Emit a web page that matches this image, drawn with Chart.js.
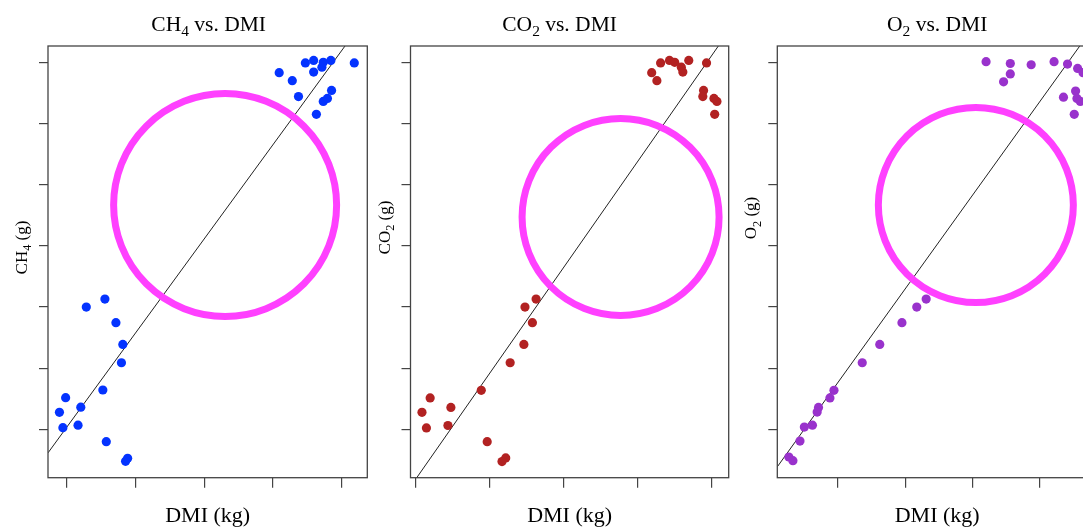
<!DOCTYPE html>
<html>
<head>
<meta charset="utf-8">
<script src="https://cdn.jsdelivr.net/npm/chart.js@4.4.0/dist/chart.umd.min.js"></script>
<style>
  html, body { margin: 0; padding: 0; background: #fff; overflow: hidden; }
  body { width: 1083px; height: 531px; position: relative; }
  .panel { position: absolute; top: 0; }
</style>
</head>
<body>
<canvas id="chCH4" class="panel" width="370" height="531" style="left:0px"></canvas>
<canvas id="chCO2" class="panel" width="370" height="531" style="left:370px"></canvas>
<canvas id="chO2"  class="panel" width="370" height="531" style="left:740px"></canvas>
<script>
/* ── Data (axis units: no tick labels are printed in the figure) ───────── */
const yTicks = [0, 1, 2, 3, 4, 5, 6];

// CH4 vs DMI
const ch4X = [3.09, 3.28, 3.37, 3.47, 3.59, 3.59, 3.63, 3.71, 3.73, 3.84, 3.73, 3.79, 3.85, 4.18,
              0.29, 0.56, 0.72, 0.82, 0.80, 0.53, -0.01, 0.21, -0.10, -0.05, 0.17, 0.58, 0.89, 0.86];
const ch4Y = [5.83, 5.70, 5.44, 5.99, 6.03, 5.84, 5.15, 5.92, 6.00, 6.03, 5.36, 5.41, 5.54, 5.99,
              2.00, 2.13, 1.745, 1.39, 1.09, 0.645, 0.52, 0.365, 0.28, 0.03, 0.07, -0.20, -0.47, -0.52];
const ch4XTicks = [0, 1, 2, 3, 4];
const ch4Fit = [0.028, 1.542];          // intercept, slope
const ch4Gap = [2.305, 3.668];          // centre of the highlighted empty region

// CO2 vs DMI
const co2X = [3.19, 3.26, 3.31, 3.43, 3.50, 3.59, 3.61, 3.69, 3.93, 3.89, 3.88, 4.03, 4.07, 4.04,
              1.48, 1.63, 1.58, 1.465, 1.28, 0.89, 0.20, 0.48, 0.09, 0.15, 0.44, 0.97, 1.22, 1.17];
const co2Y = [5.83, 5.70, 5.99, 6.03, 6.00, 5.92, 5.84, 6.03, 5.99, 5.54, 5.44, 5.41, 5.36, 5.15,
              2.00, 2.13, 1.745, 1.39, 1.09, 0.64, 0.515, 0.36, 0.28, 0.025, 0.065, -0.20, -0.465, -0.525];
const co2XTicks = [0, 1, 2, 3, 4];
const co2Fit = [-0.821, 1.733];
const co2Gap = [2.77, 3.472];

// O2 vs DMI
const o2X = [3.20, 3.56, 3.56, 3.46, 3.87, 4.21, 4.41, 4.56, 4.64, 4.53, 4.35, 4.55, 4.60, 4.51,
             2.31, 2.17, 1.95, 1.62, 1.36, 0.94, 0.88, 0.71, 0.69, 0.50, 0.62, 0.435, 0.27, 0.33];
const o2Y = [6.01, 5.98, 5.81, 5.68, 5.96, 6.01, 5.97, 5.90, 5.83, 5.53, 5.43, 5.41, 5.36, 5.15,
             2.13, 2.00, 1.745, 1.39, 1.09, 0.64, 0.515, 0.36, 0.285, 0.04, 0.07, -0.19, -0.45, -0.51];
const o2XTicks = [1, 2, 3, 4, 5];
const o2Fit = [-0.76, 1.53];
const o2Gap = [3.048, 3.668];

/* ── Helpers ──────────────────────────────────────────────────────────── */
const SERIF = '"Liberation Serif", "Times New Roman", Times, serif';
const SUBS  = '₀₁₂₃₄₅₆₇₈₉';
const INK   = '#444';

// draw text, rendering unicode subscript digits as small lowered digits
function drawRich(ctx, text, x, y, size, align) {
  const runs = [];
  for (const ch of text) {
    const i = SUBS.indexOf(ch);
    const sub = i >= 0;
    const c = sub ? String(i) : ch;
    const last = runs[runs.length - 1];
    if (last && last.sub === sub) last.t += c; else runs.push({ t: c, sub });
  }
  let w = 0;
  runs.forEach(r => {
    ctx.font = `${r.sub ? size * 0.72 : size}px ${SERIF}`;
    r.w = ctx.measureText(r.t).width;
    w += r.w;
  });
  let cx = align === 'center' ? x - w / 2 : x;
  ctx.textAlign = 'left';
  ctx.textBaseline = 'alphabetic';
  runs.forEach(r => {
    ctx.font = `${r.sub ? size * 0.72 : size}px ${SERIF}`;
    ctx.fillText(r.t, cx, r.sub ? y + size * 0.25 : y);
    cx += r.w;
  });
}

// R-style frame, main title and rotated y label
const rPlot = {
  id: 'rPlot',
  afterDraw(chart, args, o) {
    const { ctx, chartArea: a } = chart;
    ctx.save();
    ctx.strokeStyle = INK;
    ctx.lineWidth = 1.3;
    ctx.strokeRect(a.left, a.top, a.right - a.left, a.bottom - a.top);
    ctx.fillStyle = '#000';
    drawRich(ctx, o.title, (a.left + a.right) / 2 + (o.titleShift || 0), 31, 21.5, 'center');
    ctx.translate(a.left - 21, o.ylabY);
    ctx.rotate(-Math.PI / 2);
    drawRich(ctx, o.ylab, 0, 0, 17, 'center');
    ctx.restore();
  }
};

function makePanel(id, p) {
  const pts = p.x.map((x, i) => ({ x, y: p.y[i] }));
  const fit = p.xRange.map(x => ({ x, y: p.fit[0] + p.fit[1] * x }));

  new Chart(document.getElementById(id), {
    type: 'scatter',
    data: {
      datasets: [
        { // highlight ring
          data: [{ x: p.gap[0], y: p.gap[1] }],
          pointRadius: p.ringR,
          pointBorderWidth: 7,
          pointBorderColor: '#FF40FF',
          pointBackgroundColor: 'rgba(0,0,0,0)',
          clip: false,
          order: 0,
        },
        {
          data: pts,
          pointRadius: 4.6,
          pointBorderWidth: 0,
          pointBackgroundColor: p.color,
          order: 1,
        },
        { // fitted line
          data: fit,
          showLine: true,
          pointRadius: 0,
          borderColor: '#222',
          borderWidth: 1,
          clip: 0,
          order: 2,
        },
      ]
    },
    options: {
      responsive: false,
      animation: false,
      events: [],
      devicePixelRatio: 1,
      layout: { autoPadding: false, padding: { left: 0, right: p.padRight, top: 46, bottom: 0 } },
      plugins: {
        legend: { display: false },
        tooltip: { enabled: false },
        rPlot: { title: p.title, ylab: p.ylab, ylabY: p.ylabY, titleShift: p.titleShift },
      },
      scales: {
        x: {
          type: 'linear',
          min: p.xRange[0], max: p.xRange[1],
          afterBuildTicks: s => { s.ticks = p.xTicks.filter(v => v <= p.xRange[1]).map(v => ({ value: v })); },
          afterFit: s => { s.height = 53.3; },
          ticks: { display: false },
          grid: { drawOnChartArea: false, drawTicks: true, tickLength: 10, color: INK, lineWidth: 1.2 },
          border: { display: false },
          title: {
            display: true, text: 'DMI (kg)', color: '#000',
            font: { family: SERIF, size: 22 },
            padding: { top: 0, bottom: 2 },
          },
        },
        y: {
          type: 'linear',
          min: -0.788, max: 6.266,
          afterBuildTicks: s => { s.ticks = yTicks.map(v => ({ value: v })); },
          afterFit: s => { s.width = p.yWidth; },
          ticks: { display: false },
          grid: { drawOnChartArea: false, drawTicks: true, tickLength: 9, color: INK, lineWidth: 1.2 },
          border: { display: false },
        },
      },
    },
    plugins: [rPlot],
  });
}

makePanel('chCH4', {
  x: ch4X, y: ch4Y, xTicks: ch4XTicks, fit: ch4Fit, gap: ch4Gap,
  xRange: [-0.266, 4.369], color: '#0433FF', ringR: 111.5,
  title: 'CH₄ vs. DMI', ylab: 'CH₄ (g)', ylabY: 247.5, titleShift: 1,
  yWidth: 48, padRight: 2.7,
});
makePanel('chCO2', {
  x: co2X, y: co2Y, xTicks: co2XTicks, fit: co2Fit, gap: co2Gap,
  xRange: [-0.065, 4.229], color: '#B22222', ringR: 98.5,
  title: 'CO₂ vs. DMI', ylab: 'CO₂ (g)', ylabY: 227.5, titleShift: -10,
  yWidth: 40.5, padRight: 11.3,
});
makePanel('chO2', {
  x: o2X, y: o2Y, xTicks: o2XTicks, fit: o2Fit, gap: o2Gap,
  xRange: [0.098, 4.848], color: '#9932CC', ringR: 97.5,
  title: 'O₂ vs. DMI', ylab: 'O₂ (g)', ylabY: 218, titleShift: 0,
  yWidth: 37.3, padRight: 13,
});
</script>
</body>
</html>
